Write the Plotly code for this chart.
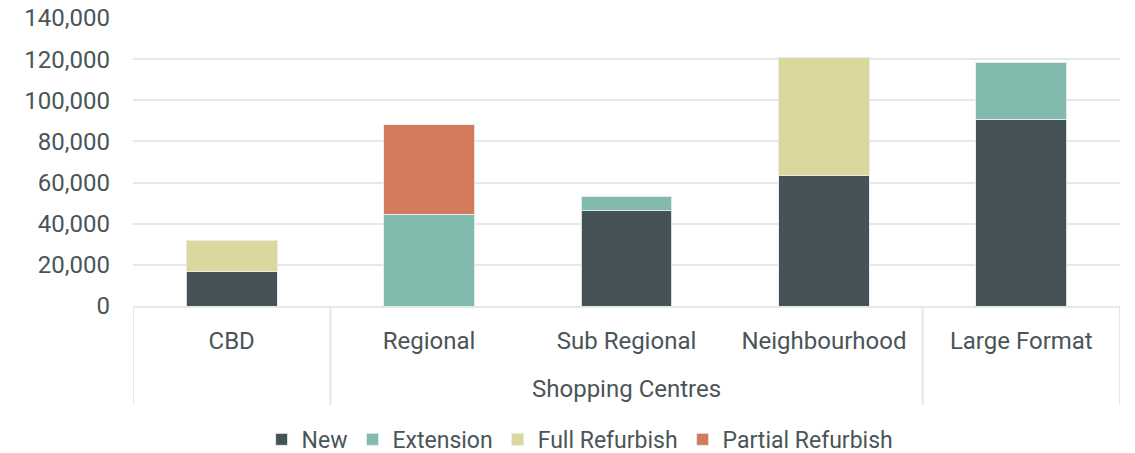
import plotly.graph_objects as go

categories = ["CBD", "Regional", "Sub Regional", "Neighbourhood", "Large Format"]
group_label = "Shopping Centres"
new = [17000, 0, 46200, 63200, 90900]
extension = [0, 44700, 7100, 0, 27400]
full_refurbish = [14700, 0, 0, 57800, 0]
partial_refurbish = [0, 43300, 0, 0, 0]
y_ticks = [0, 20000, 40000, 60000, 80000, 100000, 120000, 140000]

series = [
    ("New", new, "#455357"),
    ("Extension", extension, "#82BBAD"),
    ("Full Refurbish", full_refurbish, "#DAD89D"),
    ("Partial Refurbish", partial_refurbish, "#D17A5C"),
]

FONT = "Roboto"
TXT = "#4a5558"
GRID = "#e3e8e8"
FS = 24

xpos = list(range(len(categories)))
fig = go.Figure()
for name, vals, col in series:
    fig.add_trace(go.Bar(
        x=xpos, y=vals, name=name, width=0.46,
        marker=dict(color=col, line=dict(color="rgba(230,236,236,0.9)", width=1)),
    ))

fig.update_layout(
    barmode="stack",
    width=1135, height=453,
    margin=dict(l=133, r=15, t=18, b=147, autoexpand=False),
    plot_bgcolor="white", paper_bgcolor="white",
    font=dict(family=FONT, size=FS, color=TXT),
    legend=dict(orientation="h", x=0.453, xanchor="center",
                yref="container", y=0.03, yanchor="middle",
                font=dict(size=23, color=TXT), traceorder="normal", itemwidth=30,
                tracegroupgap=0),
    showlegend=True,
)
fig.update_yaxes(range=[0, 140000], tickvals=y_ticks, tickformat=",d",
                 showgrid=True, gridcolor=GRID, gridwidth=2, zeroline=False,
                 showline=False, ticks="", ticklabelstandoff=22, automargin=False,
                 tickfont=dict(size=FS, color=TXT))
fig.update_xaxes(range=[-0.5, len(categories) - 0.5], tickvals=xpos, ticktext=categories,
                 showgrid=False, zeroline=False, showline=True, linecolor=GRID, linewidth=2,
                 ticks="", ticklabelstandoff=12, automargin=False,
                 tickfont=dict(size=FS, color=TXT))

for xv in [-0.5, 0.5, 3.5, 4.5]:
    fig.add_shape(type="line", xref="x", yref="paper", x0=xv, x1=xv, y0=0, y1=-0.344,
                  line=dict(color=GRID, width=2))

fig.add_annotation(x=2, y=-0.288, xref="x", yref="paper", text=group_label,
                   showarrow=False, yanchor="middle", font=dict(size=FS, color=TXT))

fig.write_html("out.html")
